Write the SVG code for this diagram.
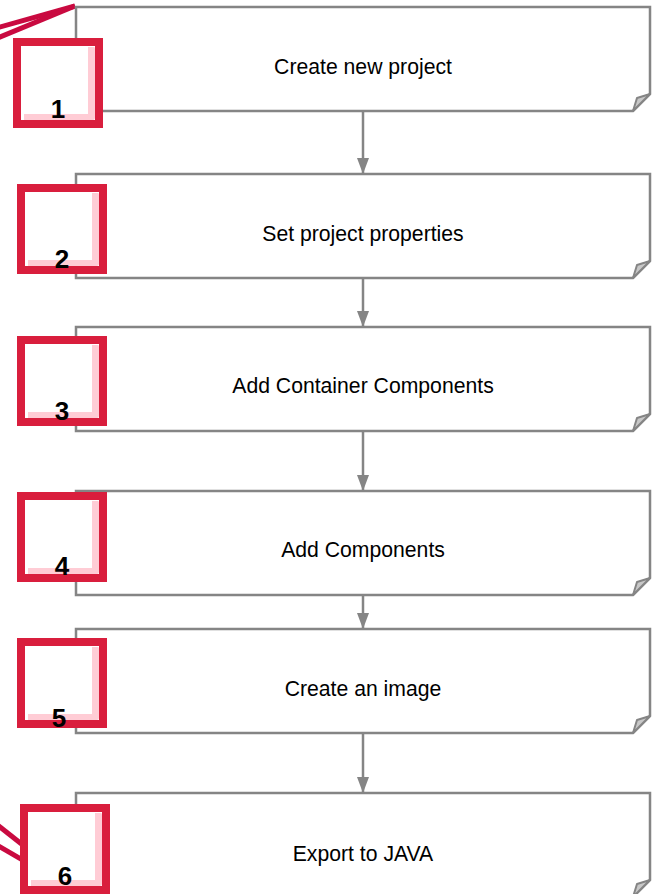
<svg xmlns="http://www.w3.org/2000/svg" width="658" height="894" viewBox="0 0 658 894">
  <style>
    .body { fill: #ffffff; stroke: #858585; stroke-width: 2.5; stroke-linejoin: miter; }
    .fold { fill: #c8c8c8; stroke: #858585; stroke-width: 2; stroke-linejoin: round; }
    .label { font-family: "Liberation Sans", Arial, sans-serif; font-size: 21.2px; fill: #000000; text-anchor: middle; }
    .num { font-family: "Liberation Sans", Arial, sans-serif; font-size: 26px; font-weight: bold; fill: #000000; text-anchor: middle; }
    .flow { stroke: #858585; stroke-width: 2.5; fill: none; }
    .tie { stroke: #c90a40; stroke-width: 5; fill: none; }
  </style>
  <defs>
    <marker id="head" markerUnits="userSpaceOnUse" markerWidth="18" markerHeight="14" viewBox="0 0 18 14" refX="17" refY="7" orient="auto">
      <path d="M1,1 L17,7 L1,13 Z" fill="#858585"/>
    </marker>
    <!-- numbered badge, 90 x 90 -->
    <g id="badge">
      <rect x="4" y="4" width="82" height="82" fill="#ffffff" stroke="#d91e3d" stroke-width="8"/>
      <path d="M75,9 H81 Q82,9 82,11 V80 Q82,82 80,82 H11 V76 H75 Z" fill="#ffccd5"/>
    </g>
  </defs>

  <!-- red tie lines at the top and bottom edges -->
  <g id="ties">
    <line class="tie" x1="-5" y1="28.4" x2="75" y2="6"/>
    <line class="tie" x1="-5" y1="39.1" x2="75" y2="6"/>
    <line class="tie" x1="-5" y1="823" x2="95" y2="902"/>
    <line class="tie" x1="-5" y1="844" x2="95" y2="902"/>
  </g>

  <!-- connectors between steps -->
  <g id="connectors">
    <line class="flow" x1="363" y1="111" x2="363" y2="174" marker-end="url(#head)"/>
    <line class="flow" x1="363" y1="278" x2="363" y2="327" marker-end="url(#head)"/>
    <line class="flow" x1="363" y1="431" x2="363" y2="491" marker-end="url(#head)"/>
    <line class="flow" x1="363" y1="595" x2="363" y2="629" marker-end="url(#head)"/>
    <line class="flow" x1="363" y1="733" x2="363" y2="793" marker-end="url(#head)"/>
  </g>

  <g id="step1">
    <path class="body" d="M76,7 H650 V94 L633,111 H76 Z"/>
    <path class="fold" d="M633,111 L637,98 L650,94 Z"/>
    <text class="label" x="363" y="74">Create new project</text>
    <use href="#badge" x="13" y="38"/>
    <text class="num" x="58" y="118">1</text>
  </g>

  <g id="step2">
    <path class="body" d="M76,174 H650 V261 L633,278 H76 Z"/>
    <path class="fold" d="M633,278 L637,265 L650,261 Z"/>
    <text class="label" x="363" y="241">Set project properties</text>
    <use href="#badge" x="17" y="184"/>
    <text class="num" x="62" y="268">2</text>
  </g>

  <g id="step3">
    <path class="body" d="M76,327 H650 V414 L633,431 H76 Z"/>
    <path class="fold" d="M633,431 L637,418 L650,414 Z"/>
    <text class="label" x="363" y="393">Add Container Components</text>
    <use href="#badge" x="17" y="336"/>
    <text class="num" x="62" y="420">3</text>
  </g>

  <g id="step4">
    <path class="body" d="M76,491 H650 V578 L633,595 H76 Z"/>
    <path class="fold" d="M633,595 L637,582 L650,578 Z"/>
    <text class="label" x="363" y="557">Add Components</text>
    <use href="#badge" x="17" y="492"/>
    <text class="num" x="62" y="575">4</text>
  </g>

  <g id="step5">
    <path class="body" d="M76,629 H650 V716 L633,733 H76 Z"/>
    <path class="fold" d="M633,733 L637,720 L650,716 Z"/>
    <text class="label" x="363" y="696">Create an image</text>
    <use href="#badge" x="17" y="638"/>
    <text class="num" x="59" y="727">5</text>
  </g>

  <g id="step6">
    <path class="body" d="M76,793 H650 V880 L633,897 H76 Z"/>
    <path class="fold" d="M633,897 L637,884 L650,880 Z"/>
    <text class="label" x="363" y="861">Export to JAVA</text>
    <use href="#badge" x="20" y="804"/>
    <text class="num" x="65" y="885">6</text>
  </g>
</svg>
